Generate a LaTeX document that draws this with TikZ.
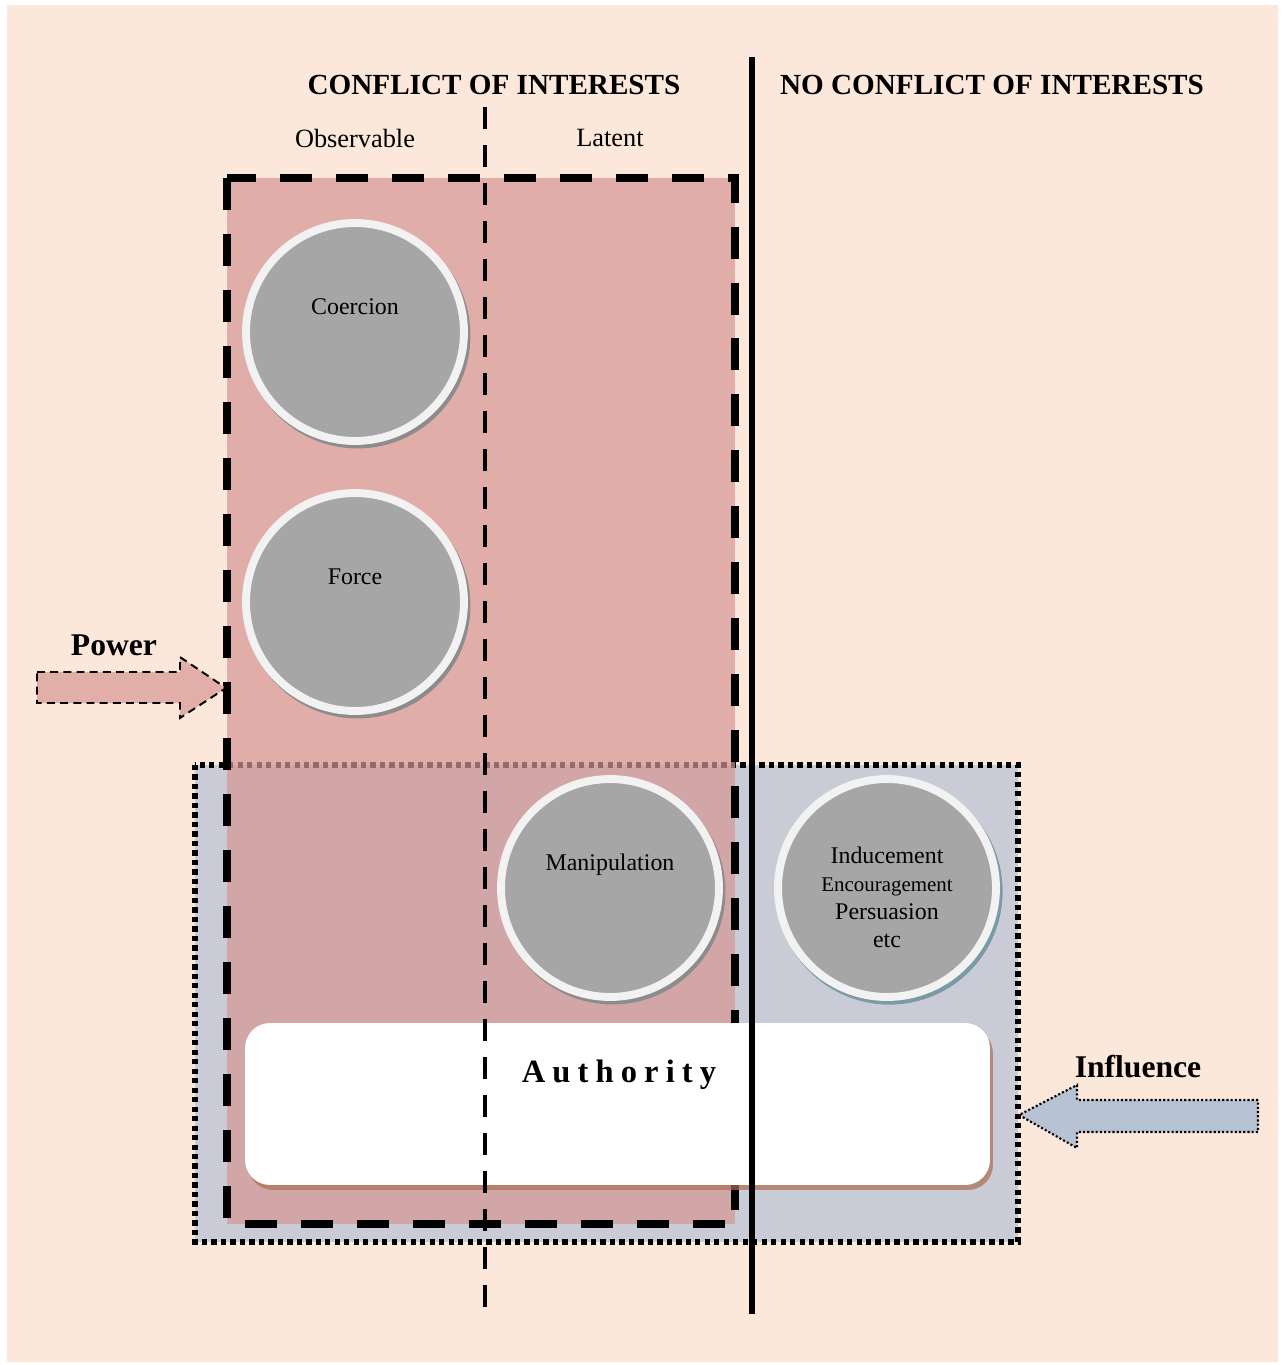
\documentclass[tikz,border=0pt]{standalone}
\usepackage{fontspec}
\setmainfont{Liberation Serif}
\usetikzlibrary{shadows}

\definecolor{peach}{RGB}{251,232,218}
\definecolor{powerpink}{RGB}{215,149,147}
\definecolor{arrowpink}{RGB}{226,174,168}
\definecolor{inflblue}{RGB}{201,203,214}
\definecolor{arrowblue}{RGB}{183,195,213}
\definecolor{discgray}{RGB}{166,166,166}
\definecolor{discring}{RGB}{242,242,242}
\definecolor{discshade}{RGB}{140,140,140}
\definecolor{inflshade}{RGB}{122,154,166}
\definecolor{boxshadow}{RGB}{172,110,80}

\begin{document}
\begin{tikzpicture}[
    x=0.02cm, y=-0.02cm,
    title/.style={font=\fontsize{16.6}{20}\selectfont\bfseries},
    subtitle/.style={font=\fontsize{15}{18}\selectfont},
    side/.style={font=\fontsize{18}{22}\selectfont\bfseries},
    disc/.style={circle, fill=discgray, draw=discring, line width=4.5pt, minimum size=4.36cm, inner sep=0pt,
        drop shadow={shadow xshift=0.05cm, shadow yshift=-0.07cm, fill=discshade, draw=discshade, line width=4.5pt, opacity=1}},
    infldisc/.style={disc, drop shadow={shadow xshift=0.05cm, shadow yshift=-0.07cm, fill=inflshade, draw=inflshade, line width=4.5pt, opacity=1}},
    disctext/.style={font=\fontsize{13.6}{16}\selectfont, align=center},
    powerzone/.style={fill=powerpink, fill opacity=0.7, draw=black, line width=4.5pt, dash pattern=on 0.64cm off 0.48cm},
    inflzone/.style={fill=inflblue, draw=black, line width=3pt, dash pattern=on 3pt off 2.4pt},
    authbox/.style={rectangle, fill=white, rounded corners=0.5cm, minimum width=14.9cm, minimum height=3.24cm,
        drop shadow={shadow xshift=0.06cm, shadow yshift=-0.1cm, fill=boxshadow, opacity=0.7}},
    divider/.style={line width=3.4pt},
    subdivider/.style={line width=2.8pt, dash pattern=on 0.44cm off 0.32cm},
    powerarrow/.style={fill=arrowpink, draw=black, line width=1.1pt, dash pattern=on 4.5pt off 3pt},
    inflarrow/.style={fill=arrowblue, draw=black, line width=1.2pt, dash pattern=on 1.2pt off 1.2pt}
]

% Background
\useasboundingbox (0,0) rectangle (1285,1365);
\fill[peach] (7,5) rectangle (1278,1362);

% Zones
\draw[inflzone] (195,765) rectangle (1018,1242);
\draw[powerzone] (227,178) rectangle (735,1224);

% Discs
\node[disc] (coercion) at (355,332) {};
\node[disctext] (coercionlbl) at ([yshift=0.5cm]coercion.center) {Coercion};

\node[disc] (force) at (355,602) {};
\node[disctext] (forcelbl) at ([yshift=0.5cm]force.center) {Force};

\node[disc] (manip) at (610,888) {};
\node[disctext] (maniplbl) at ([yshift=0.47cm]manip.center) {Manipulation};

\node[infldisc] (induce) at (887,888) {};
\node[disctext] (inducelbl) at (887,897) {Inducement\\{\fontsize{11.9}{15.5}\selectfont Encouragement}\\Persuasion\\etc};

% Authority
\node[authbox] (authority) at (617.5,1104) {};
\node[font=\fontsize{18.5}{22}\selectfont\bfseries\addfontfeature{LetterSpace=22}] (authlbl) at (619,1075) {Authority};

% Dividers
\draw[subdivider] (485,107) -- (485,1314);
\draw[divider] (752,57) -- (752,1314);

% Headings
\node[title] (conflict) at (494,85) {CONFLICT OF INTERESTS};
\node[title] (noconflict) at (992,85) {NO CONFLICT OF INTERESTS};
\node[subtitle] (observable) at (355,138) {Observable};
\node[subtitle] (latent) at (610,138) {Latent};

% Power and influence arrows
\node[side] (power) at (114,645) {Power};
\draw[powerarrow] (37,672) -- (180,672) -- (180,657) -- (226,688) -- (180,718) -- (180,703) -- (37,703) -- cycle;

\node[side] (influence) at (1138,1067) {Influence};
\draw[inflarrow] (1258,1100) -- (1077,1100) -- (1077,1085) -- (1019,1115) -- (1077,1148) -- (1077,1132) -- (1258,1132) -- cycle;

\end{tikzpicture}
\end{document}
